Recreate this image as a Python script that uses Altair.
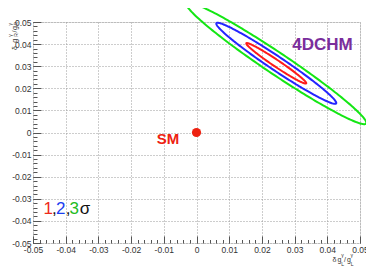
import altair as alt
import numpy as np
import pandas as pd

# ---------------- data ----------------
x_ticks = [-0.05, -0.04, -0.03, -0.02, -0.01, 0.0, 0.01, 0.02, 0.03, 0.04, 0.05]
y_ticks = [-0.05, -0.04, -0.03, -0.02, -0.01, 0.0, 0.01, 0.02, 0.03, 0.04, 0.05]
minor_ticks = [round(-0.05 + 0.002 * i, 3) for i in range(51)]

# fitted contours (1, 2, 3 sigma) in the (dgL/gL, dgR/gR) plane
levels = ["1σ", "2σ", "3σ"]
level_colors = ["#ff1a1a", "#2424ff", "#14e614"]
ell_cx = [0.0244, 0.0244, 0.0244]
ell_cy = [0.0313, 0.0313, 0.0313]
semi_major = [0.0129, 0.0258, 0.0387]
semi_minor = [0.0013, 0.0027, 0.0042]
tilt_deg = [-45.0, -45.0, -45.0]

# Standard Model point
sm_x = [0.0]
sm_y = [0.0]

# annotations (data coordinates)
ann_text = ["SM", "4DCHM"]
ann_x = [-0.0087, 0.0385]
ann_y = [-0.0050, 0.0374]
ann_color = ["#ee2211", "#7a2d9c"]
ann_size = [15, 17]

leg_chars = ["1", ",", "2", ",", "3", "σ"]
leg_x = [-0.04532, -0.04343, -0.04150, -0.03930, -0.03740, -0.03410]
leg_y = [-0.0369] * 6
leg_colors = ["#ee2a1a", "#111111", "#1a3cf0", "#111111", "#22bb22", "#111111"]

# ---------------- build tables ----------------
rows = []
t = np.linspace(0, 2 * np.pi, 241)
for lev, cx, cy, a, b, ang in zip(levels, ell_cx, ell_cy, semi_major, semi_minor, tilt_deg):
    ph = np.deg2rad(ang)
    px = cx + a * np.cos(t) * np.cos(ph) - b * np.sin(t) * np.sin(ph)
    py = cy + a * np.cos(t) * np.sin(ph) + b * np.sin(t) * np.cos(ph)
    for i, (u, v) in enumerate(zip(px, py)):
        rows.append({"level": lev, "i": i, "x": u, "y": v})
ell_df = pd.DataFrame(rows)
sm_df = pd.DataFrame({"x": sm_x, "y": sm_y})
ann_df = pd.DataFrame({"text": ann_text, "x": ann_x, "y": ann_y, "color": ann_color, "size": ann_size})
leg_df = pd.DataFrame({"text": leg_chars, "x": leg_x, "y": leg_y, "color": leg_colors})

W, H = 327, 221
xs = alt.Scale(domain=[-0.05, 0.05], nice=False, zero=False)
ys = alt.Scale(domain=[-0.05, 0.05], nice=False, zero=False)
LBL = "'' + round(datum.value * 100) / 100"
FONT = "Liberation Sans"

X0 = alt.X("x:Q", scale=xs, axis=None)
Y0 = alt.Y("y:Q", scale=ys, axis=None)

# grid layer
grid = alt.Chart(sm_df).mark_point(opacity=0).encode(
    x=alt.X("x:Q", scale=xs, axis=alt.Axis(orient="bottom", values=x_ticks, grid=True, ticks=False,
                                           labels=False, domain=False, title=None,
                                           gridColor="#9a9a9a", gridDash=[1, 2], gridWidth=1)),
    y=alt.Y("y:Q", scale=ys, axis=alt.Axis(orient="left", values=y_ticks, grid=True, ticks=False,
                                           labels=False, domain=False, title=None,
                                           gridColor="#9a9a9a", gridDash=[1, 2], gridWidth=1)),
)

# major ticks + labels (ticks drawn inside the frame)
major = alt.Chart(sm_df).mark_point(opacity=0).encode(
    x=alt.X("x:Q", scale=xs, axis=alt.Axis(orient="bottom", values=x_ticks, grid=False, domain=False,
                                           tickSize=7, offset=-7, tickColor="#555", labelExpr=LBL,
                                           labelFont=FONT, labelFontSize=8.5, labelColor="#333",
                                           labelPadding=2, labelFlush=False, labelOverlap=False,
                                           title=None)),
    y=alt.Y("y:Q", scale=ys, axis=alt.Axis(orient="left", values=y_ticks, grid=False, domain=False,
                                           tickSize=8, offset=-8, tickColor="#555", labelExpr=LBL,
                                           labelFont=FONT, labelFontSize=8.5, labelColor="#333",
                                           labelPadding=2, labelFlush=False, labelOverlap=False,
                                           title=None)),
)

# minor ticks
minor = alt.Chart(sm_df).mark_point(opacity=0).encode(
    x=alt.X("x:Q", scale=xs, axis=alt.Axis(orient="bottom", values=minor_ticks, grid=False, domain=False,
                                           tickSize=3.5, offset=-3.5, tickColor="#555", labels=False,
                                           title=None)),
    y=alt.Y("y:Q", scale=ys, axis=alt.Axis(orient="left", values=minor_ticks, grid=False, domain=False,
                                           tickSize=4, offset=-4, tickColor="#555", labels=False,
                                           title=None)),
)

ellipses = alt.Chart(ell_df).mark_line(clip=False, strokeWidth=2).encode(
    x=X0, y=Y0,
    color=alt.Color("level:N", scale=alt.Scale(domain=levels, range=level_colors), legend=None),
    order="i:Q",
)

sm_pt = alt.Chart(sm_df).mark_circle(size=85, color="#ee2211", opacity=1).encode(x=X0, y=Y0)

ann = alt.Chart(ann_df).mark_text(font=FONT, fontWeight="bold", align="center", baseline="alphabetic").encode(
    x=X0, y=Y0, text="text:N",
    color=alt.Color("color:N", scale=None), size=alt.Size("size:Q", scale=None),
)

leg = alt.Chart(leg_df).mark_text(font=FONT, fontSize=17, align="center", baseline="alphabetic").encode(
    x=X0, y=Y0, text="text:N",
    color=alt.Color("color:N", scale=None),
)

# axis titles with sub/superscripts (pixel offsets relative to the plot area)
def piece(txt, px, py, size, angle=0):
    kw = dict(text=txt, font=FONT, fontSize=size, align="left", baseline="alphabetic", color="#333")
    if angle:
        kw["angle"] = angle
    return alt.Chart(sm_df).mark_text(**kw).encode(x=alt.value(px), y=alt.value(py))

xt = [
    piece("δ", 299.5, 240, 7), piece("g", 304.5, 240, 7),
    piece("γ", 308.2, 235, 5), piece("L", 308.2, 243.8, 5),
    piece("/", 311, 240, 7), piece("g", 314, 240, 7),
    piece("γ", 317.6, 235, 5), piece("L", 317.8, 243.8, 5),
]
yt = [
    piece("δ", -16.5, 28, 7, 270), piece("g", -16.5, 20.7, 7, 270),
    piece("γ", -21.4, 14.7, 5, 270), piece("R", -15.5, 14.7, 5, 270),
    piece("/", -16.5, 10.5, 7, 270), piece("g", -16.5, 8, 7, 270),
    piece("γ", -21.4, 3.5, 5, 270), piece("R", -15.5, 3.5, 5, 270),
]

chart = alt.layer(grid, major, minor, ellipses, sm_pt, ann, leg, *xt, *yt).resolve_axis(
    x="independent", y="independent"
).properties(
    width=W, height=H,
    autosize=alt.AutoSizeParams(type="none"),
    padding={"left": 25, "top": 14, "right": 6, "bottom": 24},
).configure_view(stroke="#8a8a8a", strokeWidth=1).configure(background="white")

chart.save("out.html", embed_options={"renderer": "svg", "actions": False})
